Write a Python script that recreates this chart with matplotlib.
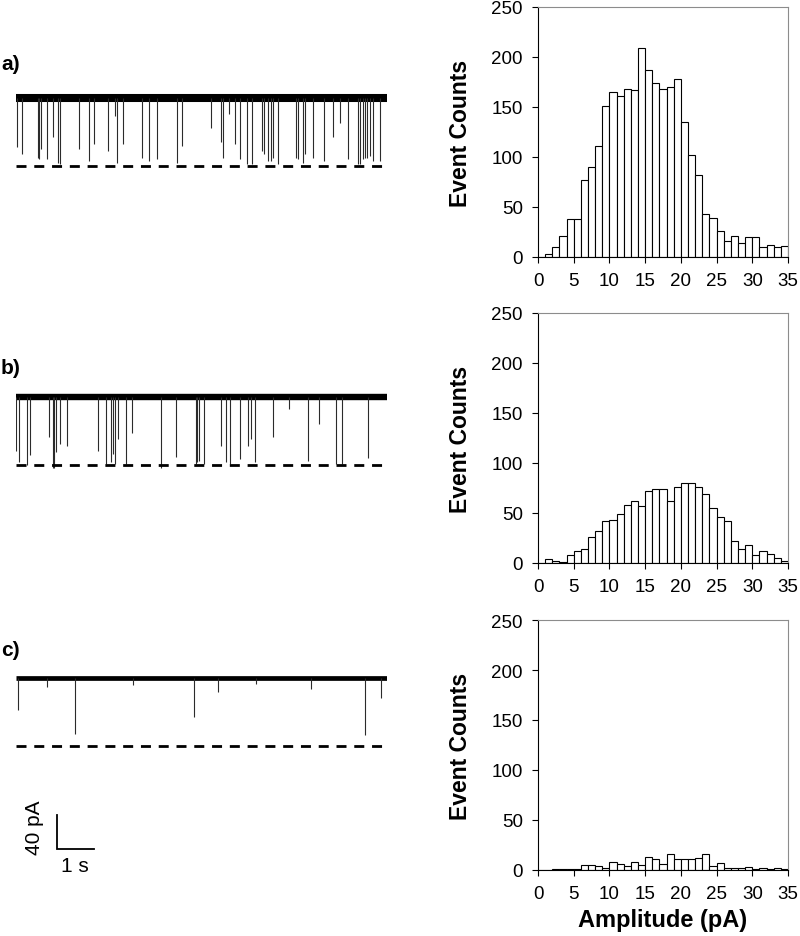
import matplotlib
matplotlib.use("Agg")
import matplotlib.pyplot as plt
import numpy as np

plt.rcParams["font.family"] = ["Liberation Sans", "DejaVu Sans"]

# amplitude histograms, 1 pA bins from 0 to 35 pA
bin_left = np.arange(0, 35)
counts_a = [0, 3, 10, 21, 38, 38, 77, 90, 111, 151, 165, 161, 168, 167, 209,
            187, 174, 168, 170, 178, 135, 102, 82, 43, 39, 26, 16, 21, 14, 20,
            20, 10, 12, 10, 11]
counts_b = [0, 4, 2, 1, 8, 12, 14, 26, 32, 42, 43, 49, 58, 62, 57, 72, 74, 74,
            62, 76, 80, 80, 76, 69, 55, 46, 42, 22, 14, 18, 8, 12, 9, 5, 2]
counts_c = [0, 0, 1, 1, 1, 1, 5, 5, 4, 2, 8, 6, 4, 8, 5, 13, 11, 6, 16, 11,
            11, 11, 12, 16, 4, 7, 2, 2, 2, 3, 1, 2, 1, 2, 1]

# current traces: event time (s) and blockade depth (pA) below open baseline
events_a_t = [0.02, 0.17, 0.58, 0.63, 0.67, 0.84, 0.99, 1.14, 1.19, 1.71, 1.98,
              2.10, 2.47, 2.67, 2.73, 2.88, 3.39, 3.58, 3.79, 4.35, 4.47, 5.25,
              5.52, 5.57, 5.75, 5.90, 6.04, 6.22, 6.37, 6.63, 6.69, 6.80, 6.86,
              6.94, 7.05, 7.55, 7.60, 7.74, 7.79, 8.00, 8.30, 8.55, 8.73, 8.95,
              9.23, 9.27, 9.34, 9.41, 9.47, 9.54, 9.61, 9.81]
events_a_d = [58, 66, 70, 72, 60, 72, 46, 76, 78, 60, 74, 54, 62, 21, 76, 54,
              70, 74, 72, 76, 56, 35, 52, 70, 19, 54, 72, 78, 78, 62, 66, 74,
              74, 70, 78, 70, 72, 76, 66, 70, 74, 46, 29, 72, 78, 78, 72, 70,
              70, 68, 74, 74]
events_b_t = [0.00, 0.08, 0.29, 0.38, 0.89, 0.99, 1.03, 1.08, 1.19, 1.37, 2.22,
              2.43, 2.56, 2.62, 2.67, 2.76, 2.96, 3.14, 3.90, 4.30, 4.84, 4.89,
              4.94, 5.08, 5.52, 5.66, 5.77, 6.04, 6.26, 6.33, 6.44, 6.92, 7.35,
              7.86, 8.18, 8.62, 8.78, 9.48]
events_b_d = [63, 77, 80, 68, 47, 83, 83, 65, 55, 58, 63, 79, 77, 67, 79, 49,
              79, 42, 83, 71, 79, 77, 75, 79, 58, 77, 79, 73, 58, 49, 77, 47,
              14, 75, 32, 79, 79, 72]
events_c_t = [0.05, 0.83, 1.59, 3.16, 4.81, 5.44, 6.47, 7.96, 9.41, 9.84]
events_c_d = [38, 11, 66, 8, 46, 16, 7, 13, 67, 24]

block_level = -80  # dashed reference level (pA)

# label, events, baseline band width, counts, baseline px, hist top px, label y px
panels = [
    ("a)", events_a_t, events_a_d, 5.8, counts_a, 99, 8, 65),
    ("b)", events_b_t, events_b_d, 4.6, counts_b, 398, 314, 369),
    ("c)", events_c_t, events_c_d, 3.4, counts_c, 679, 621, 651),
]

W, H = 800, 937
fig = plt.figure(figsize=(W / 100, H / 100), dpi=100)

px_per_pa = 0.85
trace_left, trace_right = 16, 387
y_top_pa, y_bot_pa = 25, -95

for label, ev_t, ev_d, band_lw, counts, base_px, hist_top, label_px in panels:
    # trace panel
    ax_h = (y_top_pa - y_bot_pa) * px_per_pa
    top_px = base_px - y_top_pa * px_per_pa
    ax_t = fig.add_axes([trace_left / W, 1 - (top_px + ax_h) / H,
                         (trace_right - trace_left) / W, ax_h / H])
    ax_t.set_xlim(0, 10)
    ax_t.set_ylim(y_bot_pa, y_top_pa)
    ax_t.axis("off")
    ax_t.plot([0, 10], [0, 0], color="black", lw=band_lw, solid_capstyle="butt")
    ax_t.vlines(ev_t, [-d for d in ev_d], 0, color="#2b2b2b", lw=0.8)
    ax_t.plot([0, 10], [block_level, block_level], color="black", lw=2.0,
              dashes=(3.6, 2.8))

    fig.text(1 / W, 1 - label_px / H, label, fontsize=15, fontweight="bold",
             ha="left", va="center")

    if label == "c)":
        # scale bar: 1 s, 40 pA
        x0, y0 = 1.105, -201
        ax_t.plot([x0, x0, x0 + 1], [y0 + 40, y0, y0], color="black", lw=1.3,
                  clip_on=False, solid_joinstyle="miter")
        ax_t.text(x0 - 0.6, y0 + 26, "40 pA", rotation=90, ha="center",
                  va="center", fontsize=15)
        ax_t.text(x0 + 0.47, y0 - 20, "1 s", ha="center", va="center",
                  fontsize=15)

    # histogram panel
    ax = fig.add_axes([538 / W, 1 - (hist_top + 250) / H, 250 / W, 250 / H])
    ax.bar(bin_left, counts, width=1.0, align="edge", facecolor="white",
           edgecolor="black", linewidth=0.8)
    ax.set_xlim(0, 35)
    ax.set_ylim(0, 250)
    ax.set_xticks(range(0, 36, 5))
    ax.set_yticks(range(0, 251, 50))
    ax.tick_params(direction="out", length=4, width=0.8, labelsize=13.5, pad=7)
    for side in ("top", "right"):
        ax.spines[side].set_color("#8c8c8c")
    for side in ("left", "bottom"):
        ax.spines[side].set_color("black")
    ax.set_ylabel("Event Counts", fontsize=16.5, fontweight="bold", labelpad=14)
    if label == "c)":
        ax.set_xlabel("Amplitude (pA)", fontsize=17, fontweight="bold",
                      labelpad=4)

fig.savefig("out.png", dpi=100)
